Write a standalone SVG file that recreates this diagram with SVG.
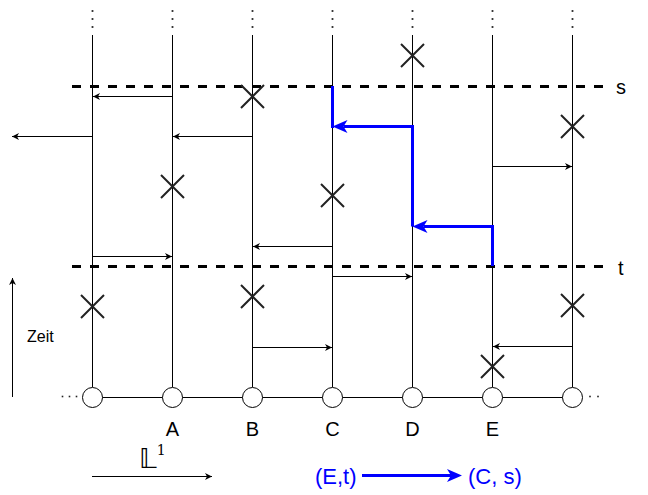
<svg xmlns="http://www.w3.org/2000/svg" width="648" height="495" viewBox="0 0 648 495">
<style>
.site{stroke:#000;stroke-width:1;fill:none}
.circ{fill:#fff;stroke:#000;stroke-width:1}
.dot{fill:#222}
.lbl{font-family:"Liberation Sans",Arial,sans-serif;font-size:20px;fill:#000}
.dash{stroke:#000;stroke-width:3;stroke-dasharray:9 9;fill:none}
.x{stroke:#222;stroke-width:2;fill:none}
.arr{stroke:#000;stroke-width:1;fill:none;marker-end:url(#ah)}
.blue{stroke:#0000ff;stroke-width:3;fill:none}
.bluea{stroke:#0000ff;stroke-width:3;fill:none;marker-end:url(#bh)}
</style>
<defs>
<marker id="ah" viewBox="-8 -4 9 8" refX="0" refY="0" markerWidth="9" markerHeight="8" orient="auto" markerUnits="userSpaceOnUse">
<path d="M0,0 L-7,-3.5 L-5,0 L-7,3.5 Z" fill="#000"/>
</marker>
<marker id="bh" viewBox="-5 -7 17 14" refX="0" refY="0" markerWidth="17" markerHeight="14" orient="auto" markerUnits="userSpaceOnUse">
<path d="M11,0 L-4,-6.5 L0,0 L-4,6.5 Z" fill="#0000ff"/>
</marker>
<g id="topdots">
<rect x="-0.9" y="10.1" width="1.8" height="1.8" class="dot"/>
<rect x="-0.9" y="18.1" width="1.8" height="1.8" class="dot"/>
<rect x="-0.9" y="26.1" width="1.8" height="1.8" class="dot"/>
</g>
</defs>
<rect width="648" height="495" fill="#fff"/>
<line x1="92" y1="397.5" x2="572" y2="397.5" class="site"/>
<g id="leftdots"><rect x="61.7" y="395.7" width="1.6" height="1.6" class="dot"/><rect x="68.7" y="395.7" width="1.6" height="1.6" class="dot"/><rect x="75.7" y="395.7" width="1.6" height="1.6" class="dot"/></g>
<g id="rightdots"><rect x="589.2" y="395.7" width="1.6" height="1.6" class="dot"/><rect x="597.2" y="395.7" width="1.6" height="1.6" class="dot"/></g>
<g id="site0"><use href="#topdots" x="92.5"/><line x1="92.5" y1="35" x2="92.5" y2="387" class="site"/><circle cx="92.5" cy="397.5" r="10" class="circ"/></g>
<g id="siteA"><use href="#topdots" x="172.5"/><line x1="172.5" y1="35" x2="172.5" y2="387" class="site"/><circle cx="172.5" cy="397.5" r="10" class="circ"/><text x="172.5" y="436" text-anchor="middle" class="lbl">A</text></g>
<g id="siteB"><use href="#topdots" x="252.5"/><line x1="252.5" y1="35" x2="252.5" y2="387" class="site"/><circle cx="252.5" cy="397.5" r="10" class="circ"/><text x="252.5" y="436" text-anchor="middle" class="lbl">B</text></g>
<g id="siteC"><use href="#topdots" x="332.5"/><line x1="332.5" y1="35" x2="332.5" y2="387" class="site"/><circle cx="332.5" cy="397.5" r="10" class="circ"/><text x="332.5" y="436" text-anchor="middle" class="lbl">C</text></g>
<g id="siteD"><use href="#topdots" x="412.5"/><line x1="412.5" y1="35" x2="412.5" y2="387" class="site"/><circle cx="412.5" cy="397.5" r="10" class="circ"/><text x="412.5" y="436" text-anchor="middle" class="lbl">D</text></g>
<g id="siteE"><use href="#topdots" x="492.5"/><line x1="492.5" y1="35" x2="492.5" y2="387" class="site"/><circle cx="492.5" cy="397.5" r="10" class="circ"/><text x="492.5" y="436" text-anchor="middle" class="lbl">E</text></g>
<g id="site6"><use href="#topdots" x="572.5"/><line x1="572.5" y1="35" x2="572.5" y2="387" class="site"/><circle cx="572.5" cy="397.5" r="10" class="circ"/></g>
<g id="line-s"><line x1="72" y1="86.5" x2="610" y2="86.5" class="dash"/><text x="616" y="94" class="lbl">s</text></g>
<g id="line-t"><line x1="72" y1="266.5" x2="610" y2="266.5" class="dash"/><text x="618" y="275" class="lbl">t</text></g>
<g id="crosses">
<path class="x" d="M401,44 L424,67 M424,44 L401,67"/>
<path class="x" d="M241,85 L264,108 M264,85 L241,108"/>
<path class="x" d="M561,115 L584,138 M584,115 L561,138"/>
<path class="x" d="M161,175 L184,198 M184,175 L161,198"/>
<path class="x" d="M321,184 L344,207 M344,184 L321,207"/>
<path class="x" d="M81,295 L104,318 M104,295 L81,318"/>
<path class="x" d="M241,285 L264,308 M264,285 L241,308"/>
<path class="x" d="M561,294 L584,317 M584,294 L561,317"/>
<path class="x" d="M481,355 L504,378 M504,355 L481,378"/>
</g>
<g id="connectors">
<path class="arr" d="M172,96.5 H93"/>
<path class="arr" d="M92,136.5 H12"/>
<path class="arr" d="M252,136.5 H173"/>
<path class="arr" d="M492,166.5 H572"/>
<path class="arr" d="M332,246.5 H253"/>
<path class="arr" d="M92,256.5 H172"/>
<path class="arr" d="M332,276.5 H412"/>
<path class="arr" d="M252,347.5 H332"/>
<path class="arr" d="M572,346.5 H493"/>
<path class="arr" d="M12.5,397 V278"/>
<path class="arr" d="M92,476.5 H212"/>
<path class="bluea" d="M492.5,266 V226.5 H423.5"/>
<path class="bluea" d="M412.5,226.5 V126.5 H343.5"/>
<path class="blue" d="M332.5,128 V86"/>
<path class="bluea" d="M362,475.5 H451"/>
</g>
<text x="27" y="342" font-family="Liberation Sans, Arial, sans-serif" font-size="16" fill="#000">Zeit</text>
<text id="L1label" x="139" y="468" fill="#000" font-size="27" font-family="DejaVu Sans, sans-serif">𝕃<tspan dx="0" dy="-13" font-size="14" font-family="DejaVu Serif, serif">1</tspan></text>
<text x="315" y="484" class="lbl" style="fill:#0000ff;font-size:22px">(E,t)</text>
<text x="468" y="484" class="lbl" style="fill:#0000ff;font-size:22px">(C, s)</text>
</svg>
